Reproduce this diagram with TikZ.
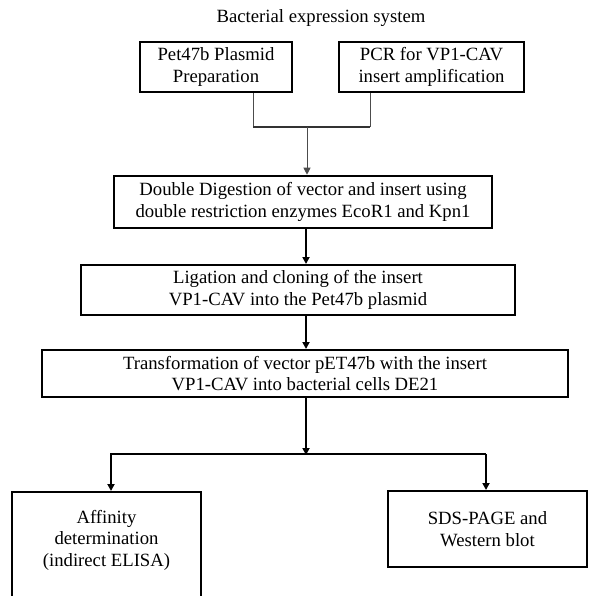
\documentclass[tikz,border=0pt]{standalone}
\usepackage{fontspec}
\setmainfont{Liberation Serif}
\usetikzlibrary{arrows.meta}
\begin{document}
\begin{tikzpicture}[x=1pt,y=-1pt,
  every node/.style={font=\fontsize{18.7}{21.5}\selectfont, inner sep=0pt, align=center},
  stepbox/.style={draw=black, line width=2pt, minimum height=50pt},
  topbox/.style={stepbox, line width=2.6pt},
  thinline/.style={draw=black!70, line width=1pt},
  flow/.style={draw=black, line width=2pt},
  tip/.style={-{Triangle[width=7pt,length=7pt]}}
]
\clip (0,0) rectangle (589,596);
\useasboundingbox (0,0) rectangle (589,596);
\fill[white] (0,0) rectangle (589,596);

\node (title) at (321,18) {Bacterial expression system};

\node[topbox, minimum width=152pt] (b1) at (216,67) {Pet47b Plasmid\\Preparation};
\node[topbox, minimum width=185pt] (b2) at (431.5,67) {PCR for VP1-CAV\\insert amplification};

\node[stepbox, line width=2.6pt, minimum width=378pt, minimum height=52pt] (b3) at (303,202)
  {Double Digestion of vector and insert using\\double restriction enzymes EcoR1 and Kpn1};
\node[stepbox, minimum width=434pt] (b4) at (298,290)
  {Ligation and cloning of the insert\\VP1-CAV into the Pet47b plasmid};
\node[stepbox, minimum width=526pt, minimum height=47pt] (b5) at (305,373.5)
  {Transformation of vector pET47b with the insert\\VP1-CAV into bacterial cells DE21};

\node[stepbox, minimum width=189pt, minimum height=125pt, anchor=north] (aff) at (106.5,491) {};
\node (afftext) at (106.5,540) {Affinity\\determination\\(indirect ELISA)};
\node[stepbox, minimum width=199pt, minimum height=76pt] (sds) at (487.5,529)
  {SDS-PAGE and\\Western blot};

% top junction
\coordinate (j1) at (253,127);
\coordinate (j2) at (370,127);
\coordinate (jm) at (307,127);
\draw[thinline] (b1.south -| j1) -- (j1);
\draw[thinline] (b2.south -| j2) -- (j2);
\draw[draw=black!80, line width=2pt] (j1) -- (j2);
\draw[thinline, tip] (jm) -- (b3.north -| jm);

% main chain
\draw[flow, line width=2.6pt, tip] (b3.south -| 306,0) -- (b4.north -| 306,0);
\draw[flow, tip] (b4.south -| 306,0) -- (b5.north -| 306,0);

% branch
\coordinate (bm) at (306,454);
\coordinate (bl) at (111,454);
\coordinate (br) at (486,454);
\draw[flow, tip] (b5.south -| bm) -- ([yshift=-1pt]bm);
\draw[flow, tip] (br) -- (bl) -- (aff.north -| bl);
\draw[flow, line width=2.4pt, tip] (br) -- (sds.north -| br);
\end{tikzpicture}
\end{document}
